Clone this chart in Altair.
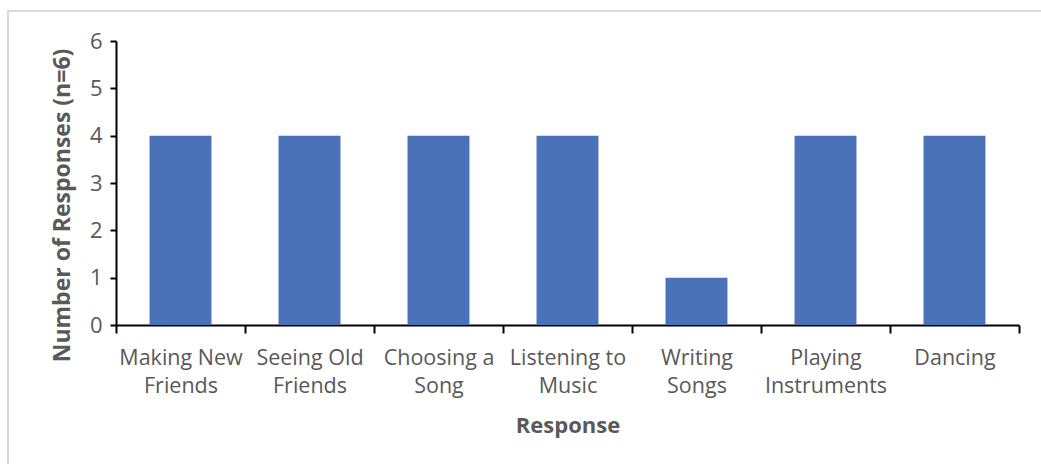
import json
import altair as alt
import pandas as pd

# Survey responses: which activities participants mentioned (n=6)
label_lines = [
    ["Making New", "Friends"],
    ["Seeing Old", "Friends"],
    ["Choosing a", "Song"],
    ["Listening to", "Music"],
    ["Writing", "Songs"],
    ["Playing", "Instruments"],
    ["Dancing"],
]
categories = [" ".join(parts) for parts in label_lines]
counts = [4, 4, 4, 4, 1, 4, 4]

df = pd.DataFrame({"response": categories, "count": counts})

# Axis labels wrap onto two lines
wrap_map = json.dumps(dict(zip(categories, label_lines)))
label_expr = f"{wrap_map}[datum.value]"

FONT = "Open Sans"
GREY = "#595959"

bars = alt.Chart(df).mark_bar(
    color="#4A72B8", width=alt.RelativeBandSize(0.48)
).encode(
    x=alt.X(
        "response:N",
        sort=categories,
        scale=alt.Scale(paddingInner=0, paddingOuter=0),
        axis=alt.Axis(
            title="Response",
            labelAngle=0,
            labelExpr=label_expr,
            labelFont=FONT,
            labelFontSize=21.5,
            labelColor=GREY,
            labelLineHeight=28,
            labelPadding=14,
            tickBand="extent",
            tickColor="black",
            tickSize=8,
            tickWidth=2,
            domainColor="black",
            domainWidth=2,
            titleFont=FONT,
            titleFontSize=22,
            titleFontWeight="bold",
            titleColor=GREY,
            titlePadding=19,
        ),
    ),
    y=alt.Y(
        "count:Q",
        scale=alt.Scale(domain=[0, 6], nice=False),
        axis=alt.Axis(
            title="Number of Responses (n=6)",
            values=[0, 1, 2, 3, 4, 5, 6],
            format="d",
            grid=False,
            labelFont=FONT,
            labelFontSize=22,
            labelColor=GREY,
            labelPadding=8,
            tickColor="black",
            tickSize=6,
            tickWidth=2,
            domainColor="black",
            domainWidth=2,
            titleFont=FONT,
            titleFontSize=23,
            titleFontWeight="bold",
            titleColor=GREY,
            titlePadding=15,
            titleY=164,
        ),
    ),
)

# Light frame around the whole chart area
frame = alt.Chart(alt.Data(values=[{}])).mark_rect(
    fill=None, stroke="#d9d9d9", strokeWidth=2
).encode(
    x=alt.value(-108), x2=alt.value(1060),
    y=alt.value(-30), y2=alt.value(480),
)

chart = alt.layer(frame, bars).properties(
    width=903,
    height=284,
    autosize=alt.AutoSizeParams(type="none"),
    padding={"left": 116, "top": 41, "right": 22, "bottom": 139},
    background="white",
).configure_view(stroke=None)

chart.save("out.html", embed_options={"renderer": "svg", "actions": False})
